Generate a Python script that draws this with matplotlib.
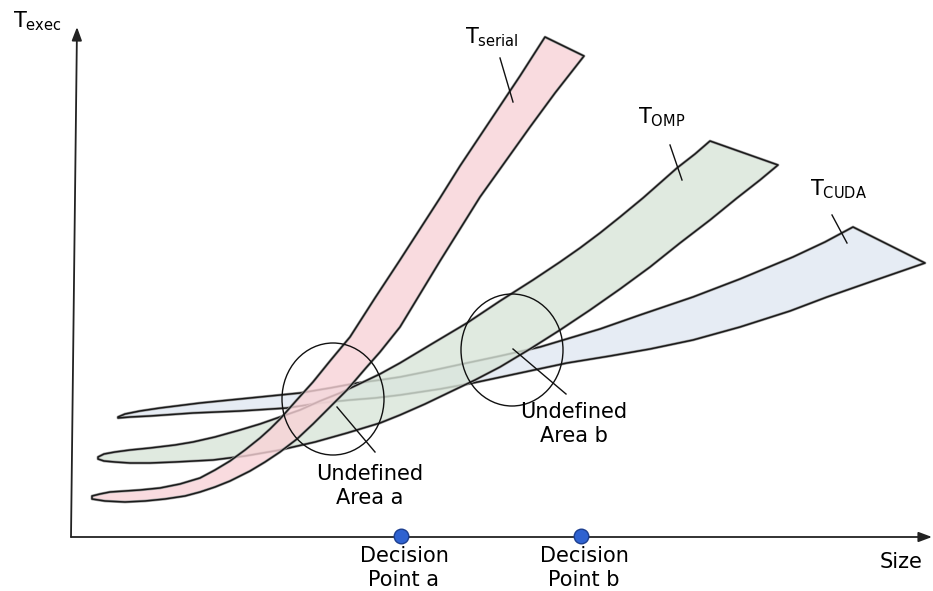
import matplotlib
matplotlib.use("Agg")
import matplotlib.pyplot as plt
from matplotlib.patches import Polygon, Ellipse
import matplotlib.patheffects as pe

# ----------------------------------------
# DATA (schematic units: origin at axis crossing)
# ----------------------------------------
serial_upper_x = [21, 29, 39, 54, 69, 89, 109, 129, 144, 159, 174, 189, 199, 209, 224,
                  242, 259, 279, 304, 329, 349, 369, 389, 409, 429, 449, 474]
serial_upper_y = [41, 43, 45, 46, 47, 49, 53, 59, 67, 76, 87, 99, 108, 118, 135,
                  155, 176, 200, 239, 277, 308, 339, 371, 401, 431, 461, 500]
serial_lower_x = [21, 34, 54, 74, 94, 114, 129, 144, 159, 179, 194, 209, 226, 242,
                  259, 276, 294, 309, 329, 349, 369, 389, 409, 434, 459, 484, 513]
serial_lower_y = [38, 36, 35, 36, 38, 41, 45, 50, 56, 66, 75, 85, 98, 113,
                  130, 147, 168, 185, 210, 243, 276, 308, 340, 375, 410, 444, 481]

omp_upper_x = [27, 33, 44, 59, 79, 104, 122, 144, 169, 189, 209, 229, 249, 269, 286,
               309, 329, 359, 396, 429, 462, 489, 509, 529, 549, 572, 589, 606, 624, 639]
omp_upper_y = [80, 83, 85, 87, 89, 92, 95, 100, 107, 113, 120, 127, 136, 144, 152,
               163, 174, 192, 214, 236, 257, 275, 289, 304, 320, 339, 354, 369, 383, 396]
omp_lower_x = [27, 33, 44, 59, 79, 104, 142, 174, 209, 244, 276, 309, 329, 354, 379,
               404, 429, 459, 489, 519, 549, 579, 609, 639, 666, 689, 707]
omp_lower_y = [78, 76, 75, 74, 74, 75, 77, 81, 87, 95, 104, 114, 122, 133, 145,
               157, 170, 188, 207, 227, 248, 270, 294, 317, 339, 357, 372]

cuda_upper_x = [47, 54, 69, 89, 129, 179, 229, 259, 286, 309, 329, 359, 396, 429, 469,
                499, 529, 569, 622, 669, 722, 754, 782]
cuda_upper_y = [120, 123, 126, 129, 134, 139, 144, 149, 154, 157, 160, 166, 174, 181, 190,
                199, 208, 222, 240, 258, 280, 295, 310]
cuda_lower_x = [47, 59, 79, 122, 169, 216, 249, 279, 304, 329, 369, 402, 449, 496, 539,
                579, 622, 669, 719, 756, 799, 854]
cuda_lower_y = [119, 120, 121, 124, 126, 129, 134, 137, 139, 142, 148, 154, 164, 174, 181,
                188, 197, 210, 226, 240, 255, 274]

area_center_x = [262, 441]
area_center_y = [138, 187]
area_labels = ["Undefined\nArea a", "Undefined\nArea b"]

decision_x = [330, 510]
decision_labels = ["Decision\nPoint a", "Decision\nPoint b"]

# ----------------------------------------
# FIGURE
# ----------------------------------------
plt.rcParams["mathtext.default"] = "regular"
fig = plt.figure(figsize=(9.33, 5.91), dpi=100)
ax = fig.add_axes([0, 0, 1, 1])
ax.set_xlim(-71, 862)
ax.set_ylim(-54, 537)
ax.axis("off")

FS = 15


def band(ux, uy, lx, ly, color, alpha, z):
    pts = list(zip(ux, uy)) + list(zip(lx, ly))[::-1]
    ax.add_patch(Polygon(pts, closed=True, facecolor=color, edgecolor="none",
                         alpha=alpha, zorder=z))
    edge = Polygon(pts, closed=True, facecolor="none", edgecolor="#1a1a1a",
                   lw=1.1, joinstyle="round", zorder=z + 0.5)
    edge.set_path_effects([pe.Stroke(linewidth=2.0, foreground="#a0a0a0"),
                           pe.Normal()])
    ax.add_patch(edge)


band(cuda_upper_x, cuda_upper_y, cuda_lower_x, cuda_lower_y, "#e6ecf4", 1.0, 1)
band(omp_upper_x, omp_upper_y, omp_lower_x, omp_lower_y, "#d9e5d9", 0.8, 2)
band(serial_upper_x, serial_upper_y, serial_lower_x, serial_lower_y, "#f8d3d7", 0.8, 3)

# ----------------------------------------
# UNDEFINED AREAS
# ----------------------------------------
for cx, cy in zip(area_center_x, area_center_y):
    ax.add_patch(Ellipse((cx, cy), 102, 112, facecolor="none", edgecolor="#111",
                         lw=1.0, zorder=5))
ax.plot([266, 304], [130, 85], color="#111", lw=1.0, zorder=5)
ax.plot([442, 495], [188, 143], color="#111", lw=1.0, zorder=5)
ax.text(299, 51, area_labels[0], ha="center", va="center", fontsize=FS,
        linespacing=1.25, zorder=6)
ax.text(503, 113, area_labels[1], ha="center", va="center", fontsize=FS,
        linespacing=1.25, zorder=6)

# series labels with leader lines
ax.text(394, 494, r"$T_{serial}$", fontsize=FS, ha="left", va="baseline")
ax.plot([429, 442], [479, 435], color="#111", lw=1.0, zorder=6)
ax.text(567, 414, r"$T_{OMP}$", fontsize=FS, ha="left", va="baseline")
ax.plot([599, 611], [392, 357], color="#111", lw=1.0, zorder=6)
ax.text(739, 342, r"$T_{CUDA}$", fontsize=FS, ha="left", va="baseline")
ax.plot([761, 776], [322, 294], color="#111", lw=1.0, zorder=6)

# ----------------------------------------
# AXES WITH ARROWS
# ----------------------------------------
arrow = dict(arrowstyle="-|>,head_length=0.8,head_width=0.3", color="#222",
             lw=1.3, shrinkA=0, shrinkB=0)
ax.annotate("", xy=(861, 0), xytext=(0, 0), arrowprops=arrow, zorder=4)
ax.annotate("", xy=(6, 510), xytext=(0, 0), arrowprops=arrow, zorder=4)
ax.text(-58, 510, r"$T_{exec}$", fontsize=FS, ha="left", va="baseline")
ax.text(830, -25, "Size", fontsize=FS, ha="center", va="center")

# decision points
ax.plot(decision_x, [1, 1], "o", ms=10.5, color="#2f62d0", mec="#1c3f8f",
        mew=1.0, zorder=7)
for x, lab in zip(decision_x, decision_labels):
    ax.text(x + 3, -31, lab, ha="center", va="center", fontsize=FS,
            linespacing=1.25)

fig.savefig("out.png", dpi=100)
